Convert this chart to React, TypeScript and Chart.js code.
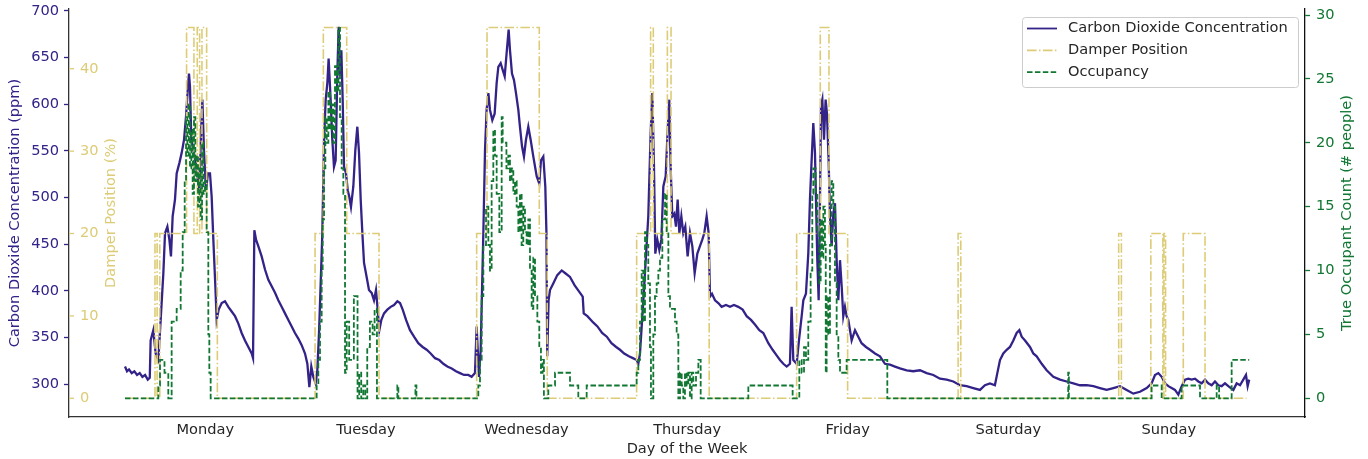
import React, { useEffect, useRef } from 'react';
import { Chart, registerables } from 'chart.js';

Chart.register(...registerables);

// ---------- data ----------
const dayNames = ['Monday', 'Tuesday', 'Wednesday', 'Thursday', 'Friday', 'Saturday', 'Sunday'];
const dayCenters = [12, 36, 60, 84, 108, 132, 156]; // hour of week at noon
const co2Ticks = [300, 350, 400, 450, 500, 550, 600, 650, 700];
const damperTicks = [0, 10, 20, 30, 40];
const occTicks = [0, 5, 10, 15, 20, 25, 30];

// CO2 (ppm) as [hour of week, value]
const co2Monday: [number, number][] = [
  [0, 319], [0.3, 314], [0.6, 316], [1.0, 312], [1.4, 314], [1.8, 310], [2.2, 312], [2.6, 308], [3.0, 310], [3.4, 305], [3.7, 307],
  [3.83, 347], [4.23, 358], [4.58, 333], [4.98, 326], [5.33, 369], [5.73, 419], [5.98, 462], [6.33, 469], [6.63, 455], [6.87, 437],
  [7.12, 480], [7.47, 498], [7.72, 526], [8.12, 537], [8.47, 548], [8.82, 562], [9.12, 587], [9.41, 619], [9.56, 633], [9.71, 619],
  [9.91, 562], [10.21, 551], [10.51, 540], [10.81, 523], [11.11, 505], [11.36, 569], [11.56, 605], [11.8, 551], [12.1, 508],
  [12.4, 526], [12.7, 526], [12.95, 501], [13.2, 455], [13.5, 405], [13.7, 369], [14.0, 380], [14.45, 387], [14.94, 389],
  [15.44, 383], [15.94, 378], [16.44, 373], [16.94, 365], [17.43, 355], [17.93, 347], [18.43, 340], [18.93, 333], [19.13, 328],
  [19.33, 465], [19.58, 455], [19.92, 448], [20.42, 437], [20.92, 423], [21.42, 412], [21.92, 405], [22.42, 398], [22.91, 390],
  [23.41, 383], [23.91, 376],
];
const co2Tuesday: [number, number][] = [
  [24.41, 369], [24.91, 362], [25.4, 355], [25.9, 349], [26.4, 342], [26.9, 333], [27.25, 322], [27.55, 297], [27.84, 319],
  [28.14, 308], [28.49, 301], [28.74, 315], [28.99, 355], [29.24, 408], [29.49, 462], [29.74, 562], [29.99, 605], [30.24, 623],
  [30.43, 649], [30.73, 605], [30.98, 562], [31.23, 533], [31.48, 540], [31.73, 633], [31.93, 683], [32.13, 630], [32.33, 658],
  [32.53, 605], [32.73, 533], [33.03, 526], [33.28, 508], [33.52, 501], [33.77, 490], [34.12, 512], [34.42, 551], [34.72, 576],
  [34.97, 548], [35.22, 498], [35.47, 462], [35.72, 430], [36.11, 415], [36.46, 401], [36.86, 398], [37.21, 390], [37.51, 401],
  [37.76, 380], [38.01, 358], [38.31, 369], [38.71, 376], [39.2, 380], [39.7, 383], [40.2, 385], [40.7, 389], [41.1, 387],
  [41.5, 380], [42.0, 369], [42.59, 358], [43.19, 351], [43.83, 344], [44.48, 340], [45.08, 337], [45.68, 333], [46.33, 328],
  [46.97, 326], [47.57, 322],
];
const co2Wednesday: [number, number][] = [
  [48.17, 319], [48.82, 317], [49.46, 314], [50.06, 312], [50.66, 310], [51.3, 310], [51.8, 308], [52.3, 312], [52.55, 362],
  [52.9, 308], [53.15, 337], [53.55, 462], [53.8, 551], [54.04, 594], [54.3, 612], [54.54, 594], [54.89, 583], [55.24, 590],
  [55.54, 623], [55.79, 640], [56.14, 644], [56.44, 637], [56.74, 630], [57.03, 655], [57.33, 680], [57.53, 658], [57.83, 633],
  [58.13, 626], [58.43, 612], [58.78, 594], [59.02, 576], [59.33, 555], [59.62, 544], [59.92, 562], [60.27, 576], [60.62, 562],
  [61.02, 544], [61.52, 523], [61.91, 515], [62.16, 540], [62.51, 544], [62.81, 512], [62.98, 462], [63.1, 330], [63.3, 390],
  [63.51, 401], [64.0, 408], [64.6, 417], [65.26, 422], [65.8, 419], [66.5, 415], [67.2, 406], [68.0, 398], [68.4, 394],
  [68.55, 376], [69.1, 373], [70.0, 366], [70.6, 362], [71.3, 355], [72.0, 351],
];
const co2Thursday: [number, number][] = [
  [72.7, 344], [73.4, 340], [73.97, 337], [74.6, 333], [75.3, 330], [75.9, 328], [76.47, 326], [76.71, 322], [76.96, 333],
  [77.46, 390], [77.85, 437], [78.2, 480], [78.55, 569], [78.8, 612], [79.05, 533], [79.25, 440], [79.55, 455], [79.85, 444],
  [80.15, 455], [80.45, 512], [80.8, 523], [81.1, 573], [81.34, 605], [81.54, 533], [81.79, 480], [82.09, 483], [82.34, 469],
  [82.59, 498], [82.84, 462], [83.14, 480], [83.43, 462], [83.73, 469], [84.08, 437], [84.43, 462], [84.78, 448], [85.13, 419],
  [85.53, 440], [85.92, 448], [86.27, 455], [86.57, 462], [86.92, 480], [87.22, 462], [87.42, 394], [87.72, 397], [88.17, 390],
  [88.66, 387], [89.16, 383], [89.81, 385], [90.41, 383], [91.0, 385], [91.65, 383], [92.3, 380], [92.9, 373], [93.55, 369],
  [94.14, 364], [94.79, 358], [95.39, 355], [96.14, 344],
];
const co2Friday: [number, number][] = [
  [96.78, 337], [97.38, 331], [97.88, 326], [98.38, 322], [98.88, 319], [99.37, 322], [99.62, 383], [99.87, 326], [100.37, 322],
  [100.72, 347], [101.12, 373], [101.37, 390], [101.76, 397], [102.11, 440], [102.36, 498], [102.61, 540], [102.86, 580],
  [103.11, 548], [103.26, 498], [103.46, 433], [103.66, 390], [103.86, 498], [104.01, 598], [104.21, 605], [104.46, 562],
  [104.7, 605], [104.9, 590], [105.15, 540], [105.35, 480], [105.6, 448], [105.85, 483], [106.1, 494], [106.35, 433],
  [106.6, 390], [106.85, 433], [107.1, 405], [107.34, 373], [107.59, 383], [107.84, 373], [108.09, 369], [108.59, 347],
  [109.09, 358], [109.58, 351], [110.08, 344], [110.73, 340], [111.33, 337], [112.08, 333], [112.82, 330], [113.57, 322],
  [114.32, 321], [115.06, 319], [115.81, 317], [116.81, 315], [117.8, 314], [118.8, 315], [119.8, 312],
];
const co2Saturday: [number, number][] = [
  [120.79, 310], [121.79, 306], [122.79, 305], [123.78, 303], [124.78, 299], [125.77, 298], [126.77, 296], [127.77, 294],
  [128.51, 299], [129.26, 301], [130.0, 299], [130.36, 312], [130.76, 326], [131.25, 333], [131.76, 337], [132.25, 340],
  [132.75, 347], [133.25, 355], [133.65, 358], [134.0, 351], [134.5, 347], [135.24, 340], [135.74, 333], [136.24, 330],
  [136.99, 322], [137.73, 315], [138.73, 308], [139.73, 305], [140.72, 303], [141.72, 301], [142.71, 299], [143.71, 299],
];
const co2Sunday: [number, number][] = [
  [144.71, 298], [145.7, 296], [146.7, 294], [147.7, 296], [148.69, 298], [149.69, 294], [150.68, 290], [151.68, 292],
  [152.68, 296], [153.42, 301], [153.92, 310], [154.42, 312], [154.92, 308], [155.42, 301], [155.92, 298], [156.41, 296],
  [156.91, 294], [157.41, 289], [157.91, 298], [158.41, 305], [158.9, 306], [159.4, 305], [159.9, 306], [160.4, 303],
  [160.9, 301], [161.4, 305], [161.89, 301], [162.39, 299], [162.89, 303], [163.39, 299], [163.88, 298], [164.38, 301],
  [164.88, 298], [165.63, 294], [166.13, 301], [166.63, 299], [167.12, 305], [167.52, 310], [167.77, 298], [168.0, 305],
];

// Damper position (%) change points: [hour, value held until next point]
const damperSteps: [number, number][] = [
  [0, 0], [4.48, 20], [4.8, 0], [5.2, 20], [9.2, 45], [10.3, 20], [10.8, 45], [11.15, 20], [11.5, 45], [12.2, 20], [13.8, 0],
  [28.4, 20], [29.64, 45], [33.13, 20], [37.96, 0],
  [52.55, 20], [54.1, 45], [61.91, 20], [63.1, 0],
  [76.46, 20], [78.55, 45], [78.95, 20], [81.05, 45], [81.6, 20], [87.3, 0],
  [100.37, 20], [103.9, 45], [105.2, 20], [107.99, 0],
  [124.5, 20], [124.9, 0],
  [148.5, 20], [148.9, 0], [153.3, 20], [155.1, 0], [155.25, 20], [155.5, 0], [158.15, 20], [161.4, 0], [167.6, 0],
];

// Occupancy (# people) change points: [hour, count held until next point]
const occMonday: [number, number][] = [
  [0, 0], [4.98, 1], [5.23, 3], [5.9, 2], [6.47, 0], [6.97, 6], [7.72, 7], [8.32, 10], [8.62, 13], [8.92, 17], [9.12, 22],
  [9.32, 19], [9.52, 23], [9.71, 18], [9.91, 21], [10.11, 16], [10.31, 22], [10.51, 17], [10.71, 19], [10.91, 15], [11.11, 18],
  [11.31, 14], [11.51, 20], [11.71, 16], [11.95, 17], [12.2, 13], [12.45, 5], [12.6, 2], [12.8, 0],
];
const occTuesday: [number, number][] = [
  [28.64, 1], [28.89, 3], [29.14, 6], [29.39, 10], [29.54, 14], [29.74, 18], [29.94, 22], [30.14, 20], [30.39, 24], [30.64, 21],
  [30.88, 23], [31.13, 20], [31.38, 26], [31.63, 24], [31.88, 29], [32.13, 22], [32.38, 18], [32.63, 16], [32.88, 2], [33.13, 6],
  [33.5, 3], [34.2, 8], [34.75, 0], [35.0, 2], [35.3, 0], [35.6, 1], [35.9, 0], [36.2, 4], [36.6, 6], [37.0, 5], [37.3, 7],
  [37.65, 0], [40.7, 1], [40.85, 0], [43.4, 1], [43.55, 0],
];
const occWednesday: [number, number][] = [
  [52.8, 1], [53.05, 3], [53.3, 8], [53.55, 12], [53.95, 15], [54.3, 12], [54.54, 10], [54.79, 17], [55.04, 21], [55.29, 19],
  [55.54, 16], [55.94, 13], [56.29, 22], [56.44, 20], [57.0, 18], [57.28, 19], [57.53, 17], [57.78, 18], [58.03, 16],
  [58.28, 17], [58.53, 15], [58.78, 13], [59.02, 16], [59.27, 12], [59.52, 15], [59.77, 13], [60.02, 12], [60.27, 14],
  [60.52, 10], [60.77, 7], [61.02, 11], [61.27, 8], [61.62, 6], [61.91, 4], [62.16, 2], [62.41, 3], [62.6, 0], [63.26, 1],
  [64.26, 2], [66.5, 1], [67.74, 0], [68.99, 1],
];
const occThursday: [number, number][] = [
  [76.46, 2], [76.71, 3], [76.96, 6], [77.21, 10], [77.46, 6], [77.71, 13], [77.96, 12], [78.2, 9], [78.45, 4], [78.6, 0],
  [78.95, 5], [79.2, 8], [79.45, 9], [79.7, 10], [79.95, 11], [80.3, 14], [80.7, 16], [80.94, 13], [81.2, 8], [81.44, 7],
  [82.19, 6], [82.44, 5], [82.69, 0], [82.94, 2], [83.19, 1], [83.43, 0], [83.68, 2], [83.93, 1], [84.18, 2], [84.43, 0],
  [84.68, 2], [84.93, 1], [85.33, 2], [85.68, 3], [86.03, 0], [93.15, 1],
];
const occFriday: [number, number][] = [
  [99.77, 0], [100.77, 3], [101.12, 2], [101.47, 4], [101.76, 3], [102.11, 6], [102.46, 10], [102.71, 16], [102.86, 18],
  [103.21, 16], [103.46, 13], [103.76, 9], [103.96, 14], [104.16, 11], [104.36, 15], [104.6, 12], [104.72, 2], [104.85, 8],
  [105.1, 5], [105.35, 12], [105.6, 17], [105.85, 15], [106.1, 9], [106.35, 5], [106.6, 3], [106.85, 2], [107.84, 3],
  [113.92, 0],
];
const occWeekend: [number, number][] = [
  [140.95, 2], [141.05, 0], [153.42, 1], [154.92, 0], [157.91, 1], [160.65, 0], [163.14, 1], [163.5, 0], [165.38, 3], [168, 3],
];

// ---------- styling ----------
const CO2_COLOR = '#332288';
const DAMPER_COLOR = '#DDCC77';
const OCC_COLOR = '#117733';
const TEXT_COLOR = '#262626';
const FONT = "'DejaVu Sans', sans-serif";
const FS = 14.6;

const toXY = (pts: [number, number][]) => pts.map(([x, y]) => ({ x, y }));

function drawRotated(ctx: CanvasRenderingContext2D, text: string, x: number, y: number, color: string) {
  ctx.save();
  ctx.translate(x, y);
  ctx.rotate(-Math.PI / 2);
  ctx.fillStyle = color;
  ctx.textAlign = 'center';
  ctx.textBaseline = 'middle';
  ctx.fillText(text, 0, 0);
  ctx.restore();
}

const overlayPlugin = {
  id: 'overlay',
  afterDraw(chart: any) {
    const { ctx, chartArea: a, scales } = chart;
    const ds = scales.yDamper;
    ctx.save();
    ctx.font = `${FS}px ${FONT}`;
    // damper axis (inside the plot, on the left)
    ctx.strokeStyle = DAMPER_COLOR;
    ctx.fillStyle = DAMPER_COLOR;
    ctx.lineWidth = 1.3;
    ctx.textAlign = 'left';
    ctx.textBaseline = 'middle';
    damperTicks.forEach((v) => {
      const y = ds.getPixelForValue(v);
      ctx.beginPath();
      ctx.moveTo(a.left, y);
      ctx.lineTo(a.left + 5, y);
      ctx.stroke();
      ctx.fillText(String(v), a.left + 11, y);
    });
    const cy = (a.top + a.bottom) / 2;
    drawRotated(ctx, 'Damper Position (%)', a.left + 42, cy, DAMPER_COLOR);
    drawRotated(ctx, 'Carbon Dioxide Concentration (ppm)', a.left - 54, cy, CO2_COLOR);
    drawRotated(ctx, 'True Occupant Count (# people)', a.right + 42, cy, OCC_COLOR);
    ctx.fillStyle = TEXT_COLOR;
    ctx.textAlign = 'center';
    ctx.textBaseline = 'middle';
    ctx.fillText('Day of the Week', (a.left + a.right) / 2, a.bottom + 32);

    // legend
    const lx = a.right - 283;
    const ly = a.top + 8;
    const lw = 276;
    const lh = 70;
    ctx.beginPath();
    if (ctx.roundRect) ctx.roundRect(lx + 0.5, ly + 0.5, lw, lh, 3);
    else ctx.rect(lx + 0.5, ly + 0.5, lw, lh);
    ctx.fillStyle = 'rgba(255,255,255,0.85)';
    ctx.fill();
    ctx.strokeStyle = '#cccccc';
    ctx.lineWidth = 1;
    ctx.stroke();
    const items: [string, string, number[]][] = [
      ['Carbon Dioxide Concentration', CO2_COLOR, []],
      ['Damper Position', DAMPER_COLOR, [9.6, 2.4, 1.5, 2.4]],
      ['Occupancy', OCC_COLOR, [5.5, 2.4]],
    ];
    items.forEach(([label, color, dash], i) => {
      const y = ly + 11.5 + i * 21.8;
      ctx.beginPath();
      ctx.setLineDash(dash);
      ctx.strokeStyle = color;
      ctx.lineWidth = 1.8;
      ctx.moveTo(lx + 5, y);
      ctx.lineTo(lx + 35, y);
      ctx.stroke();
      ctx.setLineDash([]);
      ctx.fillStyle = TEXT_COLOR;
      ctx.textAlign = 'left';
      ctx.fillText(label, lx + 46, y);
    });
    ctx.restore();
  },
};

function zeroPad(scale: any) {
  scale.paddingTop = 0;
  scale.paddingBottom = 0;
  scale.paddingLeft = 0;
  scale.paddingRight = 0;
}

export default function App() {
  const ref = useRef<HTMLCanvasElement>(null);
  useEffect(() => {
    if (!ref.current) return;
    Chart.defaults.font.family = FONT;
    Chart.defaults.font.size = FS;
    const chart = new Chart(ref.current, {
      type: 'line',
      data: {
        datasets: [
          {
            label: 'Occupancy',
            data: toXY([...occMonday, ...occTuesday, ...occWednesday, ...occThursday, ...occFriday, ...occWeekend]),
            yAxisID: 'yOcc',
            borderColor: OCC_COLOR,
            borderWidth: 1.8,
            borderDash: [5.5, 2.4],
            stepped: 'before',
            pointRadius: 0,
            fill: false,
            order: 1,
          },
          {
            label: 'Damper Position',
            data: toXY(damperSteps),
            yAxisID: 'yDamper',
            borderColor: DAMPER_COLOR,
            borderWidth: 1.6,
            borderDash: [9.6, 2.4, 1.5, 2.4],
            stepped: 'before',
            pointRadius: 0,
            fill: false,
            order: 2,
          },
          {
            label: 'Carbon Dioxide Concentration',
            data: toXY([...co2Monday, ...co2Tuesday, ...co2Wednesday, ...co2Thursday, ...co2Friday, ...co2Saturday, ...co2Sunday]),
            yAxisID: 'yCo2',
            borderColor: CO2_COLOR,
            borderWidth: 2.3,
            pointRadius: 0,
            tension: 0,
            fill: false,
            order: 3,
          },
        ],
      },
      options: {
        animation: false,
        responsive: true,
        maintainAspectRatio: false,
        layout: { padding: { top: 9, left: 0, right: 0, bottom: 0 } },
        plugins: { legend: { display: false }, tooltip: { enabled: false }, title: { display: false } },
        scales: {
          x: {
            type: 'linear',
            min: -8.37,
            max: 176.34,
            grid: { display: true, drawOnChartArea: false, drawTicks: false },
            border: { display: true, color: '#333333', width: 1.3 },
            ticks: {
              color: TEXT_COLOR,
              padding: 4,
              maxRotation: 0,
              autoSkip: false,
              callback: (v: any) => dayNames[dayCenters.indexOf(Number(v))] ?? '',
            },
            afterBuildTicks: (s: any) => {
              s.ticks = dayCenters.map((value) => ({ value }));
            },
            afterFit: (s: any) => {
              s.height = 42;
              zeroPad(s);
            },
          },
          yCo2: {
            type: 'linear',
            position: 'left',
            min: 264.96,
            max: 702.14,
            weight: 1,
            grid: { display: true, drawOnChartArea: false, drawTicks: true, tickLength: 5, tickColor: CO2_COLOR, tickWidth: 1.3 },
            border: { display: true, color: '#333333', width: 1.3 },
            ticks: { color: CO2_COLOR, padding: 5 },
            afterBuildTicks: (s: any) => {
              s.ticks = co2Ticks.map((value) => ({ value }));
            },
            afterFit: (s: any) => {
              s.width = 69;
              zeroPad(s);
            },
          },
          yDamper: {
            type: 'linear',
            position: 'left',
            display: false,
            min: -2.27,
            max: 47.25,
            weight: 0,
          },
          yOcc: {
            type: 'linear',
            position: 'right',
            min: -1.464,
            max: 30.47,
            grid: { display: true, drawOnChartArea: false, drawTicks: true, tickLength: 5, tickColor: OCC_COLOR, tickWidth: 1.3 },
            border: { display: true, color: '#111111', width: 1.3 },
            ticks: { color: OCC_COLOR, padding: 6 },
            afterBuildTicks: (s: any) => {
              s.ticks = occTicks.map((value) => ({ value }));
            },
            afterFit: (s: any) => {
              s.width = 63;
              zeroPad(s);
            },
          },
        },
      },
      plugins: [overlayPlugin],
    } as any);
    return () => chart.destroy();
  }, []);
  return (
    <div style={{ position: 'absolute', left: 0, top: 0, width: 1368, height: 459 }}>
      <canvas ref={ref} />
    </div>
  );
}
